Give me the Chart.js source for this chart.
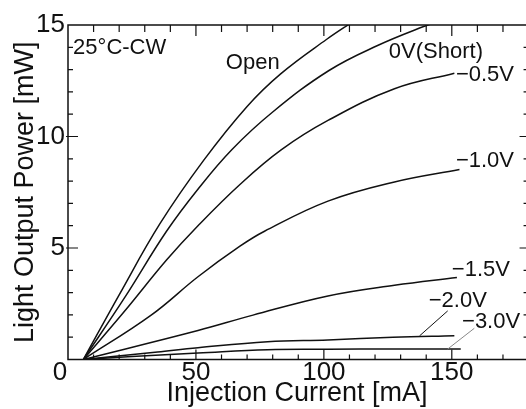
<!DOCTYPE html>
<html>
<head>
<meta charset="utf-8">
<script src="https://cdn.jsdelivr.net/npm/chart.js@4.4.1/dist/chart.umd.min.js"></script>
<style>
  html, body { margin: 0; padding: 0; background: #fff; overflow: hidden; }
  #wrap { width: 526px; height: 409px; }
</style>
</head>
<body>
<div id="wrap"><canvas id="liChart" width="526" height="409"></canvas></div>
<script>
// L-I curves of a laser diode with the integrated modulator at different bias (25°C, CW)

// injection current [mA] / light output [mW], one pair of arrays per bias
const currentOpen = [6, 20, 36, 53, 70, 83, 101, 112];
const powerOpen   = [0, 2.9, 6.1, 8.93, 11.35, 12.8, 14.35, 15.2];

const currentShort = [6, 22, 38.5, 51, 64, 80, 102, 121, 139, 146];
const powerShort   = [0, 2.75, 5.75, 7.67, 9.41, 11.1, 12.96, 14.08, 14.93, 15.2];

const current05 = [6, 22, 38.5, 50.8, 67.2, 83.3, 101.6, 127.6, 151];
const power05   = [0, 2.15, 4.46, 6.0, 7.85, 9.4, 10.72, 12.14, 12.84];

const current10 = [6, 32.5, 50.8, 67.2, 76.8, 101.6, 127.6, 153];
const power10   = [0, 1.99, 3.71, 5.08, 5.75, 7.1, 7.96, 8.52];

const current15 = [6, 50.8, 72.3, 101.6, 127.6, 152];
const power15   = [0, 1.3, 1.99, 2.85, 3.33, 3.68];

const current20 = [6, 35, 50.8, 78, 101.6, 127, 151];
const power20   = [0, 0.34, 0.53, 0.8, 0.88, 1.0, 1.07];

const current30 = [6, 25, 50.8, 78, 101.6, 127, 153.5];
const power30   = [0, 0.14, 0.29, 0.44, 0.46, 0.47, 0.47];

const seriesNames = ['Open', '0V(Short)', '\u22120.5V', '\u22121.0V', '\u22121.5V', '\u22122.0V', '\u22123.0V'];
const seriesCurrent = [currentOpen, currentShort, current05, current10, current15, current20, current30];
const seriesPower = [powerOpen, powerShort, power05, power10, power15, power20, power30];

// axis ticks
const xTickValues = [50, 100, 150];
const yTickValues = [5, 10, 15];

// curve labels, placed in data units [mA, mW]
const notes = [
    { text: '25\u00B0C-CW', x: 2, y: 13.97 },
    { text: 'Open', x: 61.7, y: 13.3 },
    { text: '0V(Short)', x: 125.4, y: 13.79 },
    { text: '\u22120.5V', x: 151.6, y: 12.76 },
    { text: '\u22121.0V', x: 151.6, y: 8.9 },
    { text: '\u22121.5V', x: 150, y: 4.01 },
    { text: '\u22122.0V', x: 141, y: 2.64 },
    { text: '\u22123.0V', x: 154, y: 1.69 }
];
// leader lines from curve end to label
const leaders = [
    { from: [137.4, 1.06], to: [148.4, 2.18], color: '#111' },
    { from: [148.4, 0.47], to: [158.8, 1.4], color: '#888' }
];

const INK = '#111';
const FONT = '"Liberation Sans", Arial, Helvetica, sans-serif';
const TICK_PAD = -2;
const TICK_SIZE = 26;

Chart.defaults.font.family = FONT;
Chart.defaults.color = INK;

// axes box, minor ticks, shared "0" and curve labels
const framePlugin = {
    id: 'frame',
    afterDraw(chart) {
        const { ctx, chartArea: a, scales: { x, y } } = chart;
        const xr = x.getPixelForValue(180);
        ctx.save();
        ctx.strokeStyle = INK;
        ctx.lineWidth = 1.5;
        ctx.beginPath();
        ctx.moveTo(xr, a.top);
        ctx.lineTo(a.left, a.top);
        ctx.lineTo(a.left, a.bottom);
        ctx.lineTo(xr, a.bottom);
        ctx.stroke();

        ctx.lineWidth = 1.2;
        ctx.beginPath();
        for (let v = 10; v < 180; v += 10) {
            const p = x.getPixelForValue(v);
            const major = v % 50 === 0;
            ctx.moveTo(p, a.bottom);
            ctx.lineTo(p, a.bottom - (major ? 10 : 5));
            ctx.moveTo(p, a.top);
            ctx.lineTo(p, a.top + (major ? 11 : 7));
        }
        for (let v = 1; v < 15; v++) {
            const p = y.getPixelForValue(v);
            const major = v % 5 === 0;
            ctx.moveTo(a.left - (major ? 2 : 0), p);
            ctx.lineTo(a.left + (major ? 10 : 5), p);
            ctx.moveTo(xr, p);
            ctx.lineTo(xr - (major ? 9 : 5), p);
        }
        ctx.stroke();

        // origin label shared by both axes
        ctx.fillStyle = INK;
        ctx.font = `${TICK_SIZE}px ${FONT}`;
        ctx.textAlign = 'center';
        ctx.textBaseline = 'middle';
        ctx.fillText('0', x.getPixelForValue(0) - 8, x.top + TICK_PAD + TICK_SIZE * 1.2 / 2);

        // leaders
        leaders.forEach(l => {
            ctx.strokeStyle = l.color;
            ctx.lineWidth = 1;
            ctx.beginPath();
            ctx.moveTo(x.getPixelForValue(l.from[0]), y.getPixelForValue(l.from[1]));
            ctx.lineTo(x.getPixelForValue(l.to[0]), y.getPixelForValue(l.to[1]));
            ctx.stroke();
        });

        ctx.font = `22px ${FONT}`;
        ctx.textAlign = 'left';
        notes.forEach(n => {
            ctx.fillText(n.text, x.getPixelForValue(n.x), y.getPixelForValue(n.y));
        });
        ctx.restore();
    }
};

const datasets = seriesNames.map((name, i) => ({
    label: name,
    data: seriesCurrent[i].map((c, k) => ({ x: c, y: seriesPower[i][k] })),
    showLine: true,
    borderColor: INK,
    borderWidth: 1.5,
    pointRadius: 0,
    tension: 0.4,
    fill: false
}));

new Chart(document.getElementById('liChart'), {
    type: 'scatter',
    data: { datasets },
    options: {
        responsive: false,
        animation: false,
        events: [],
        layout: { padding: { top: 25, right: 0, bottom: 0, left: 0 } },
        plugins: { legend: { display: false }, tooltip: { enabled: false } },
        scales: {
            x: {
                type: 'linear',
                min: 0,
                max: 179,
                afterBuildTicks: s => { s.ticks = xTickValues.map(v => ({ value: v })); },
                afterFit: s => { s.height = 49.5; },
                grid: { display: false, drawTicks: false },
                border: { display: false },
                ticks: { font: { size: TICK_SIZE }, padding: TICK_PAD, maxRotation: 0, color: INK },
                title: {
                    display: true,
                    text: 'Injection Current [mA]',
                    font: { size: 27 },
                    color: INK,
                    padding: { top: 0, bottom: -1 }
                }
            },
            y: {
                type: 'linear',
                min: 0,
                max: 15,
                afterBuildTicks: s => { s.ticks = yTickValues.map(v => ({ value: v })); },
                afterFit: s => { s.width = 68; },
                grid: { display: false, drawTicks: false },
                border: { display: false },
                ticks: { font: { size: TICK_SIZE }, padding: 3, color: INK },
                title: {
                    display: true,
                    text: 'Light Output Power [mW]',
                    font: { size: 27 },
                    color: INK,
                    padding: { top: 9, bottom: 0 }
                }
            }
        }
    },
    plugins: [framePlugin]
});
</script>
</body>
</html>
